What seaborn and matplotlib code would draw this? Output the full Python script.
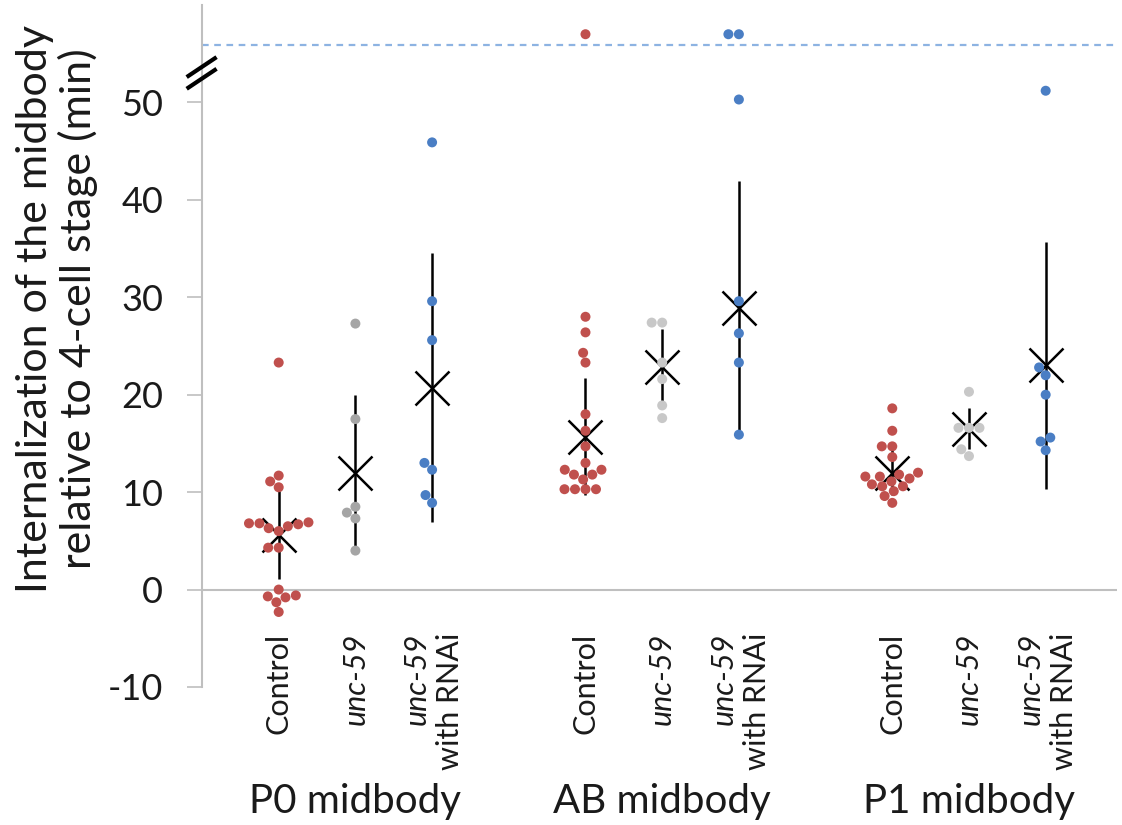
import matplotlib
matplotlib.use("Agg")
import matplotlib.pyplot as plt
import seaborn as sns
import pandas as pd
import warnings
warnings.filterwarnings("ignore")

# ---------------- data ----------------
groups = ["P0 midbody", "AB midbody", "P1 midbody"]
conditions = ["Control", "unc-59", "unc-59 with RNAi"]

p0_control = [23.3, 11.7, 11.1, 10.5, 6.9, 6.8, 6.8, 6.7, 6.5, 6.3, 6.0, 4.3, 4.3,
              0.0, -0.6, -0.7, -0.8, -1.3, -2.3]
p0_unc59 = [27.3, 17.5, 8.5, 7.9, 7.3, 4.0]
p0_rnai = [45.9, 29.6, 25.6, 13.0, 12.3, 9.7, 8.9]

ab_control = [57.0, 28.0, 26.4, 24.3, 23.3, 18.0, 16.3, 14.7, 13.0, 12.3, 12.3,
              11.8, 11.8, 11.3, 10.3, 10.3, 10.3, 10.3]
ab_unc59 = [27.4, 27.4, 23.3, 21.6, 18.9, 17.6]
ab_rnai = [57.0, 57.0, 50.3, 29.6, 26.3, 23.3, 15.9]

p1_control = [18.6, 16.3, 14.7, 14.7, 13.6, 12.0, 11.8, 11.6, 11.6, 11.4, 11.1,
              10.8, 10.6, 10.6, 10.1, 9.6, 8.9]
p1_unc59 = [20.3, 16.6, 16.6, 16.6, 14.4, 13.7]
p1_rnai = [51.2, 22.8, 22.0, 20.0, 15.6, 15.2, 14.3]

means = [5.6, 12.0, 20.7, 15.7, 22.8, 28.9, 12.0, 16.5, 23.0]
sds = [4.5, 8.0, 13.8, 6.0, 3.9, 13.0, 2.3, 2.1, 12.7]

yticks = [-10, 0, 10, 20, 30, 40, 50]
break_line_value = 55.9

values = [[p0_control, p0_unc59, p0_rnai],
          [ab_control, ab_unc59, ab_rnai],
          [p1_control, p1_unc59, p1_rnai]]

# ---------------- build table ----------------
rows = []
positions = []
for gi, g in enumerate(groups):
    for ci, c in enumerate(conditions):
        pos = gi * 4 + ci
        positions.append(pos)
        for v in values[gi][ci]:
            rows.append({"x": pos, "value": v, "key": f"{g}|{c}"})
df = pd.DataFrame(rows)

red = "#C0504D"
blue = "#4A7EC4"
palette = {}
for g in groups:
    palette[f"{g}|Control"] = red
    palette[f"{g}|unc-59"] = "#A5A5A5" if g.startswith("P0") else "#C8C8C8"
    palette[f"{g}|unc-59 with RNAi"] = blue

# ---------------- figure ----------------
sns.set_theme(style="white")
plt.rcParams["font.family"] = ["Lato", "DejaVu Sans"]

fig = plt.figure(figsize=(11.22, 8.25), dpi=100)
W, H = 1122, 825
left, right, top, bottom = 202, 1117, 5, 687
ax = fig.add_axes([left / W, 1 - bottom / H, (right - left) / W, (bottom - top) / H])

sns.swarmplot(data=df, x="x", y="value", hue="key", palette=palette,
              native_scale=True, size=7.2, linewidth=0, legend=False,
              ax=ax, zorder=3)

ax.errorbar(positions, means, yerr=sds, fmt="x", color="black", ecolor="black",
            elinewidth=1.8, capsize=0, markersize=24, markeredgewidth=1.8,
            zorder=2)

ax.set_xlim(-1.0, 10.93)
ax.set_ylim(-10, 60)
ax.set_yticks(yticks)
ax.set_yticklabels([str(t) for t in yticks])
ax.set_xticks([])
ax.set_xlabel("")
ax.set_ylabel("")

for s in ["top", "right", "bottom"]:
    ax.spines[s].set_visible(False)
ax.spines["left"].set_color("#BFBFBF")
ax.spines["left"].set_linewidth(1.5)
ax.tick_params(axis="y", left=True, length=11, width=1.2, color="#BFBFBF",
               labelsize=26, pad=17, labelcolor="#1a1a1a")

ax.axhline(0, color="#BFBFBF", lw=1.5, zorder=1)
ax.axhline(break_line_value, color="#8DB3E2", lw=1.6, ls=(0, (3, 2.5)), zorder=1)

# axis break marks
for y0 in (52.6, 51.4):
    ax.plot([-1.2, -0.81], [y0, y0 + 2.05], color="black", lw=3,
            clip_on=False, zorder=5, solid_capstyle="butt")

# category labels
lab_y = -4.4
fs_cat = 22
for gi in range(3):
    base = gi * 4
    ax.text(base + 0, lab_y, "Control", rotation=90, ha="center", va="top",
            fontsize=fs_cat, color="#1a1a1a", clip_on=False)
    ax.text(base + 1, lab_y, "unc-59", rotation=90, ha="center", va="top",
            fontsize=fs_cat, style="italic", color="#1a1a1a", clip_on=False)
    ax.text(base + 2 - 0.2, lab_y, "unc-59", rotation=90, ha="center", va="top",
            fontsize=fs_cat, style="italic", color="#1a1a1a", clip_on=False)
    ax.text(base + 2 + 0.24, lab_y, "with RNAi", rotation=90, ha="center", va="top",
            fontsize=fs_cat, color="#1a1a1a", clip_on=False)
    ax.text(base + 1, -21.8, groups[gi], ha="center", va="center",
            fontsize=29, color="#1a1a1a", clip_on=False)

fig.text(57 / W, 1 - 309 / H,
         "Internalization of the midbody\nrelative to 4-cell stage (min)",
         rotation=90, ha="center", va="center", fontsize=31,
         linespacing=1.1, color="#1a1a1a")

fig.savefig("out.png", dpi=100)
